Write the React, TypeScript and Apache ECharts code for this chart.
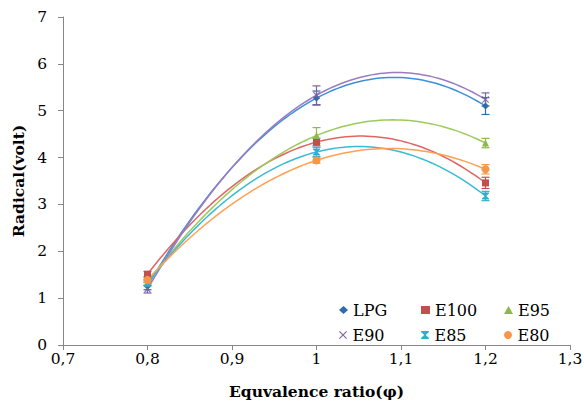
import React, { useEffect, useRef } from "react";
import * as echarts from "echarts";

// ---- data ----
const seriesNames = ["LPG", "E100", "E95", "E90", "E85", "E80"];
const xValues = [0.8, 1.0, 1.2];
const lpg = [1.26, 5.27, 5.1];
const e100 = [1.51, 4.33, 3.46];
const e95 = [1.34, 4.47, 4.31];
const e90 = [1.19, 5.33, 5.24];
const e85 = [1.32, 4.12, 3.18];
const e80 = [1.39, 3.94, 3.75];
const lpgErr = [0.08, 0.15, 0.18];
const e100Err = [0.06, 0.08, 0.12];
const e95Err = [0.06, 0.17, 0.1];
const e90Err = [0.08, 0.2, 0.14];
const e85Err = [0.06, 0.1, 0.1];
const e80Err = [0.06, 0.06, 0.1];
const xTickLabels = ["0,7", "0,8", "0,9", "1", "1,1", "1,2", "1,3"];
const yTickLabels = ["0", "1", "2", "3", "4", "5", "6", "7"];

const allValues = [lpg, e100, e95, e90, e85, e80];
const allErrors = [lpgErr, e100Err, e95Err, e90Err, e85Err, e80Err];
const colors = ["#2F6CAE", "#C0504D", "#8DB84A", "#8064A2", "#2EB0CC", "#F79646"];
const lineColors = ["#3E8FD6", "#E06464", "#9CCB5C", "#9A7CC0", "#3BB9D6", "#FFA152"];

const SYM_X = "path://M1,0 L5,4 L9,0 L10,1 L6,5 L10,9 L9,10 L5,6 L1,10 L0,9 L4,5 L0,1 Z";
const SYM_STAR = "path://M0,0 L10,0 L10,1.4 L6,5 L10,8.6 L10,10 L0,10 L0,8.6 L4,5 L0,1.4 Z";
const symbols = ["diamond", "rect", "triangle", SYM_X, SYM_STAR, "circle"];
const symbolSizes = [7, 7, 7, 7, 7, 8];

// Polynomial (order 2) trendline, least squares fit as in the spreadsheet tool
function quadFit(xs: number[], ys: number[]) {
  const n = xs.length;
  let s1 = 0, s2 = 0, s3 = 0, s4 = 0, t0 = 0, t1 = 0, t2 = 0;
  for (let i = 0; i < n; i++) {
    const x = xs[i], y = ys[i];
    s1 += x; s2 += x * x; s3 += x * x * x; s4 += x * x * x * x;
    t0 += y; t1 += x * y; t2 += x * x * y;
  }
  const M = [
    [n, s1, s2, t0],
    [s1, s2, s3, t1],
    [s2, s3, s4, t2],
  ];
  for (let c = 0; c < 3; c++) {
    let p = c;
    for (let r = c + 1; r < 3; r++) if (Math.abs(M[r][c]) > Math.abs(M[p][c])) p = r;
    [M[c], M[p]] = [M[p], M[c]];
    for (let r = 0; r < 3; r++) {
      if (r === c) continue;
      const f = M[r][c] / M[c][c];
      for (let k = c; k < 4; k++) M[r][k] -= f * M[c][k];
    }
  }
  return [M[0][3] / M[0][0], M[1][3] / M[1][1], M[2][3] / M[2][2]];
}

function trend(ys: number[]) {
  const [a0, a1, a2] = quadFit(xValues, ys);
  const pts: number[][] = [];
  const lo = xValues[0], hi = xValues[xValues.length - 1];
  const steps = 80;
  for (let i = 0; i <= steps; i++) {
    const x = lo + ((hi - lo) * i) / steps;
    pts.push([x, a0 + a1 * x + a2 * x * x]);
  }
  return pts;
}

const FONT = "DejaVu Serif";
const legendLefts = [334, 416, 499];
const legendTops = [297, 322];

export default function App() {
  const ref = useRef<HTMLDivElement>(null);
  useEffect(() => {
    if (!ref.current) return;
    const chart = echarts.init(ref.current, undefined, { renderer: "svg" });
    const series: any[] = [];
    seriesNames.forEach((name, i) => {
      series.push({
        name: name + "_trend",
        type: "line",
        data: trend(allValues[i]),
        showSymbol: false,
        symbol: "none",
        lineStyle: { color: lineColors[i], width: 1.5 },
        silent: true,
        z: 2,
      });
    });
    seriesNames.forEach((name, i) => {
      series.push({
        name: name + "_err",
        type: "custom",
        data: xValues.map((x, k) => [x, allValues[i][k] - allErrors[i][k], allValues[i][k] + allErrors[i][k]]),
        renderItem: (params: any, api: any) => {
          const x = api.value(0);
          const lo = api.coord([x, api.value(1)]);
          const hi = api.coord([x, api.value(2)]);
          const w = 4;
          const style = { stroke: colors[i], lineWidth: 1.2 };
          return {
            type: "group",
            children: [
              { type: "line", shape: { x1: lo[0], y1: lo[1], x2: hi[0], y2: hi[1] }, style },
              { type: "line", shape: { x1: lo[0] - w, y1: lo[1], x2: lo[0] + w, y2: lo[1] }, style },
              { type: "line", shape: { x1: hi[0] - w, y1: hi[1], x2: hi[0] + w, y2: hi[1] }, style },
            ],
          };
        },
        encode: { x: 0, y: [1, 2] },
        silent: true,
        z: 3,
      });
    });
    seriesNames.forEach((name, i) => {
      series.push({
        name,
        type: "scatter",
        data: xValues.map((x, k) => [x, allValues[i][k]]),
        symbol: symbols[i],
        symbolSize: symbolSizes[i],
        itemStyle: { color: colors[i], opacity: 1 },
        z: 4,
      });
    });

    const legends = seriesNames.map((name, i) => ({
      data: [name],
      left: legendLefts[i % 3],
      top: legendTops[Math.floor(i / 3)],
      itemWidth: 9,
      itemHeight: 8,
      orient: "horizontal",
      textStyle: { fontFamily: FONT, fontSize: 16, color: "#000" },
    }));

    chart.setOption({
      animation: false,
      backgroundColor: "#fff",
      color: colors,
      textStyle: { fontFamily: FONT },
      grid: { left: 63, right: 14, top: 17, bottom: 56, containLabel: false, outerBoundsMode: "none" },
      legend: legends,
      xAxis: {
        type: "value",
        min: 0.7,
        max: 1.3,
        interval: 0.1,
        name: "Equvalence ratio(φ)",
        nameLocation: "middle",
        nameGap: 38,
        nameTextStyle: { fontFamily: FONT, fontSize: 15.5, fontWeight: "bold", color: "#000" },
        axisLine: { lineStyle: { color: "#868686", width: 1 } },
        axisTick: { show: true, length: 5, lineStyle: { color: "#868686" } },
        axisLabel: {
          fontFamily: FONT,
          fontSize: 15.5,
          color: "#000",
          margin: 6,
          formatter: (v: number) => xTickLabels[Math.round((v - 0.7) * 10)] ?? "",
        },
        splitLine: { show: false },
      },
      yAxis: {
        type: "value",
        min: 0,
        max: 7,
        interval: 1,
        name: "Radical(volt)",
        nameLocation: "middle",
        nameGap: 33,
        nameRotate: 90,
        nameTextStyle: { fontFamily: FONT, fontSize: 15.5, fontWeight: "bold", color: "#000" },
        axisLine: { show: true, lineStyle: { color: "#868686", width: 1 } },
        axisTick: { show: true, length: 5, lineStyle: { color: "#868686" } },
        axisLabel: {
          fontFamily: FONT,
          fontSize: 15.5,
          color: "#000",
          margin: 16,
          formatter: (v: number) => yTickLabels[Math.round(v)] ?? "",
        },
        splitLine: { show: false },
      },
      series,
    });
    return () => chart.dispose();
  }, []);
  return <div ref={ref} style={{ width: 584, height: 401, position: "absolute", left: 0, top: 0 }} />;
}
